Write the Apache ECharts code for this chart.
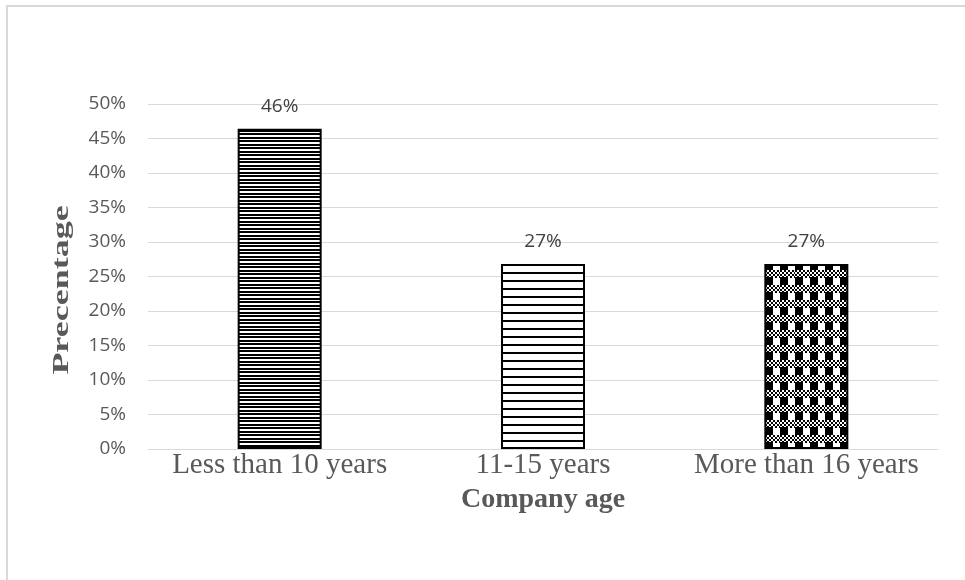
<!DOCTYPE html>
<html>
<head>
<meta charset="utf-8">
<script src="https://cdn.jsdelivr.net/npm/echarts@6/dist/echarts.min.js"></script>
<style>
html, body { margin: 0; padding: 0; background: #fff; }
#chart { width: 965px; height: 580px; }
</style>
</head>
<body>
<div id="chart"></div>
<script>
var categories = ['Less than 10 years', '11-15 years', 'More than 16 years'];
var percentValues = [46.4, 26.8, 26.8];
var yTicks = [0, 5, 10, 15, 20, 25, 30, 35, 40, 45, 50];

// patterned fills, drawn on small canvases
function stripes(period, thick) {
    var c = document.createElement('canvas');
    c.width = 8; c.height = period;
    var ctx = c.getContext('2d');
    ctx.fillStyle = '#fff';
    ctx.fillRect(0, 0, 8, period);
    ctx.fillStyle = '#000';
    ctx.fillRect(0, 0, 8, thick);
    return c;
}
function denseStripes() {
    var c = document.createElement('canvas');
    c.width = 8; c.height = 7;
    var ctx = c.getContext('2d');
    ctx.fillStyle = '#fff';
    ctx.fillRect(0, 0, 8, 7);
    ctx.fillStyle = '#000';
    ctx.fillRect(0, 0, 8, 2);
    ctx.fillRect(0, 4, 8, 2);
    return c;
}
function checks() {
    var c = document.createElement('canvas');
    c.width = 15; c.height = 15;
    var ctx = c.getContext('2d');
    ctx.fillStyle = '#fff';
    ctx.fillRect(0, 0, 15, 15);
    ctx.fillStyle = '#000';
    for (var y = 0; y < 7; y += 2) {
        for (var x = 0; x < 15; x += 2) {
            if (((x + y) / 2) % 2 === 0) ctx.fillRect(x, y, 2, 2);
        }
    }
    ctx.fillRect(0, 7, 8, 8);
    return c;
}

var fills = [
    { image: denseStripes(), repeat: 'repeat' },
    { image: stripes(8, 2), repeat: 'repeat' },
    { image: checks(), repeat: 'repeat' }
];

var chart = echarts.init(document.getElementById('chart'));
var option = {
    backgroundColor: '#fff',
    animation: false,
    graphic: [{
        type: 'rect',
        shape: { x: 7, y: 6, width: 1100, height: 1000 },
        style: { fill: 'none', stroke: '#d9d9d9', lineWidth: 2 },
        silent: true
    }, {
        // y axis title, stretched along its length like the original
        type: 'text',
        x: 62, y: 290,
        rotation: Math.PI / 2,
        scaleX: 1.5,
        style: {
            text: 'Precentage',
            font: 'bold 24px "Liberation Serif"',
            fill: '#595959',
            align: 'center',
            verticalAlign: 'middle'
        },
        silent: true
    }],
    grid: { left: 148, right: 27, top: 104, bottom: 131 },
    xAxis: {
        type: 'category',
        data: categories,
        name: 'Company age',
        nameLocation: 'middle',
        nameGap: 37,
        nameTextStyle: { fontFamily: 'Liberation Serif', fontWeight: 'bold', fontSize: 28, color: '#595959' },
        axisLine: { lineStyle: { color: '#d9d9d9', width: 1 } },
        axisTick: { show: false },
        axisLabel: { interval: 0, fontFamily: 'Liberation Serif', fontSize: 29, color: '#595959', margin: 2 }
    },
    yAxis: {
        type: 'value',
        min: yTicks[0],
        max: yTicks[yTicks.length - 1],
        interval: 5,
        axisLine: { show: false },
        axisTick: { show: false },
        splitLine: { lineStyle: { color: '#d9d9d9', width: 1 } },
        axisLabel: {
            fontFamily: 'Open Sans', fontSize: 19, color: '#595959', margin: 22,
            formatter: function (v) { return v + '%'; }
        }
    },
    series: [{
        type: 'bar',
        barWidth: 84,
        data: percentValues.map(function (v, i) {
            return { value: v, itemStyle: { color: fills[i] } };
        }),
        itemStyle: { borderColor: '#000', borderWidth: 2 },
        label: {
            show: true,
            position: 'top',
            distance: 13,
            fontFamily: 'Open Sans',
            fontSize: 19,
            color: '#404040',
            formatter: function (p) { return Math.round(p.value) + '%'; }
        }
    }]
};
chart.setOption(option);
</script>
</body>
</html>
